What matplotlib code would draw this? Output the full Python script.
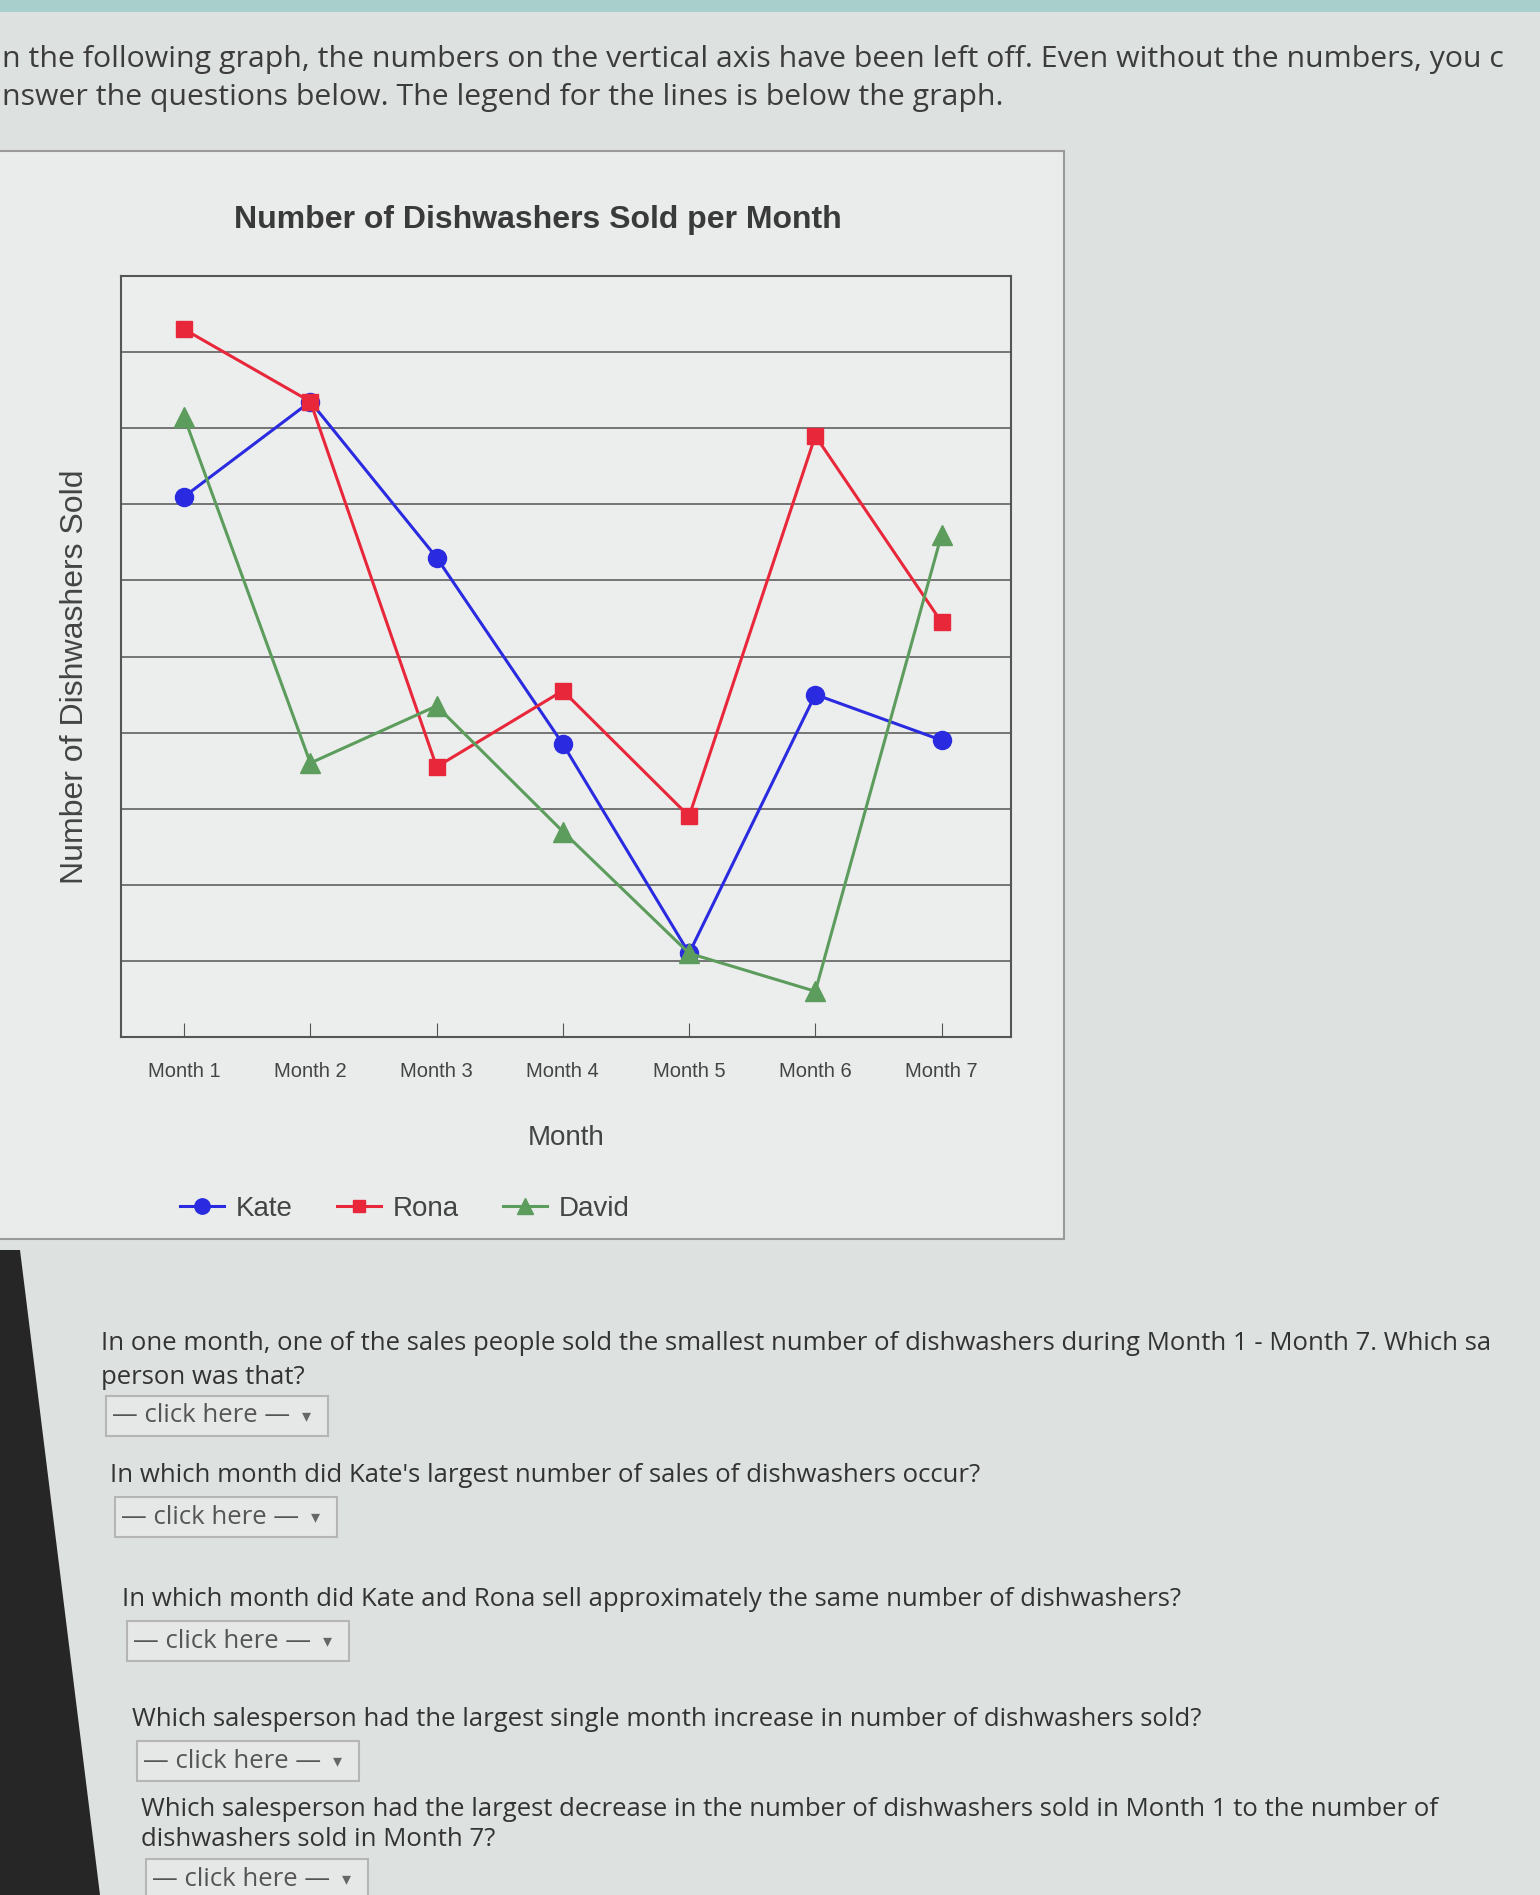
import numpy as np
import matplotlib
matplotlib.use("Agg")
import matplotlib.pyplot as plt
from matplotlib.patches import Rectangle, Polygon

months = ["Month 1", "Month 2", "Month 3", "Month 4", "Month 5", "Month 6", "Month 7"]
kate = [7.1, 8.35, 6.3, 3.85, 1.1, 4.5, 3.9]
rona = [9.3, 8.35, 3.55, 4.55, 2.9, 7.9, 5.45]
david = [8.15, 3.6, 4.35, 2.7, 1.1, 0.6, 6.6]

intro = ["n the following graph, the numbers on the vertical axis have been left off. Even without the numbers, you c",
         "nswer the questions below. The legend for the lines is below the graph."]
questions = [
    ["In one month, one of the sales people sold the smallest number of dishwashers during Month 1 - Month 7. Which sa",
     "person was that?"],
    ["In which month did Kate's largest number of sales of dishwashers occur?"],
    ["In which month did Kate and Rona sell approximately the same number of dishwashers?"],
    ["Which salesperson had the largest single month increase in number of dishwashers sold?"],
    ["Which salesperson had the largest decrease in the number of dishwashers sold in Month 1 to the number of",
     "dishwashers sold in Month 7?"],
]

W, H = 1540, 1895
fig = plt.figure(figsize=(W / 100, H / 100), dpi=100)
fig.patch.set_facecolor("#dde1e0")

def fx(px):
    return px / W

def fy(py):
    return 1 - py / H

# page decoration: teal strip on top, dark side bar on the lower left
fig.patches.append(Rectangle((0, fy(12)), 1, fy(0) - fy(12), transform=fig.transFigure,
                             facecolor="#a9cfcc", edgecolor="none", zorder=0))
fig.patches.append(Polygon([(0, fy(1250)), (fx(20), fy(1250)), (fx(100), fy(H)), (0, 0)],
                           closed=True, transform=fig.transFigure,
                           facecolor="#262626", edgecolor="none", zorder=0))

# chart panel
fig.patches.append(Rectangle((fx(-10), fy(1239)), fx(1074), fy(151) - fy(1239),
                             transform=fig.transFigure, facecolor="#e9eceb",
                             edgecolor="#9a9a9a", linewidth=1.5, zorder=0))

txt_font = ["Open Sans", "DejaVu Sans"]
for i, line in enumerate(intro):
    fig.text(fx(2), fy(60 + i * 38), line, fontsize=21.8, color="#3c3c3c",
             family=txt_font, va="center", ha="left")

fig.text(fx(538), fy(220), "Number of Dishwashers Sold per Month", fontsize=23,
         fontweight="bold", color="#3a3a3a", family="Liberation Sans",
         ha="center", va="center")

ax = fig.add_axes([fx(121), fy(1037), fx(1011) - fx(121), fy(276) - fy(1037)])
ax.set_zorder(5)
ax.set_facecolor("#eceeed")
x = np.arange(1, len(months) + 1)
ax.plot(x, kate, color="#2a2ae0", lw=2.2, marker="o", ms=13, label="Kate", zorder=3)
ax.plot(x, rona, color="#e8283a", lw=2.2, marker="s", ms=11, label="Rona", zorder=3)
ax.plot(x, david, color="#5c9c5c", lw=2.2, marker="^", ms=14, label="David", zorder=3)

ax.set_xlim(0.5, 7.55)
ax.set_ylim(0, 10)
ax.set_yticks(np.arange(1, 10))
ax.yaxis.grid(True, color="#606060", lw=1.2)
ax.set_axisbelow(True)
ax.tick_params(axis="y", left=False, labelleft=False)
ax.set_xticks(x)
ax.set_xticklabels(months, fontsize=14.5, color="#444444", family="Liberation Sans")
ax.tick_params(axis="x", direction="in", length=10, color="#555555", pad=18)
for s in ax.spines.values():
    s.set_color("#555555")
    s.set_linewidth(1.5)
ax.set_xlabel("Month", fontsize=20, color="#444444", family="Liberation Sans", labelpad=32)
fig.text(fx(75), fy(677), "Number of Dishwashers Sold", rotation=90, fontsize=23,
         color="#444444", family="Liberation Sans", ha="center", va="center")

handles, labels = ax.get_legend_handles_labels()
leg = fig.legend(handles, labels, loc="center left", bbox_to_anchor=(fx(155), fy(1209)),
                 ncol=3, frameon=False, handlelength=1.6,
                 columnspacing=1.6, handletextpad=0.4, markerscale=0.85,
                 prop={"family": "Liberation Sans", "size": 20})
for t in leg.get_texts():
    t.set_color("#444444")

# questions with drop-down boxes: (text y, box x, box y, line gap)
q_rows = [(1343, 106, 1396, 34), (1475, 115, 1497, 34), (1599, 127, 1621, 34),
          (1719, 137, 1741, 34), (1810, 146, 1859, 29)]
for q, (ty, bx, by, gap) in zip(questions, q_rows):
    for j, line in enumerate(q):
        fig.text(fx(bx - 5), fy(ty + j * gap), line, fontsize=18.5, color="#333333",
                 family=txt_font, va="center", ha="left")
    fig.patches.append(Rectangle((fx(bx), fy(by + 40)), fx(222), fy(by) - fy(by + 40),
                                 transform=fig.transFigure, facecolor="#e6e8e7",
                                 edgecolor="#b5b5b5", linewidth=1.5, zorder=1))
    fig.text(fx(bx + 6), fy(by + 20), "— click here —", fontsize=18.5, color="#555555",
             family=txt_font, va="center", ha="left")
    fig.text(fx(bx + 200), fy(by + 20), "▾", fontsize=13, color="#666666",
             family=["DejaVu Sans"], va="center", ha="center")

fig.savefig("out.png", dpi=100, facecolor=fig.get_facecolor())
